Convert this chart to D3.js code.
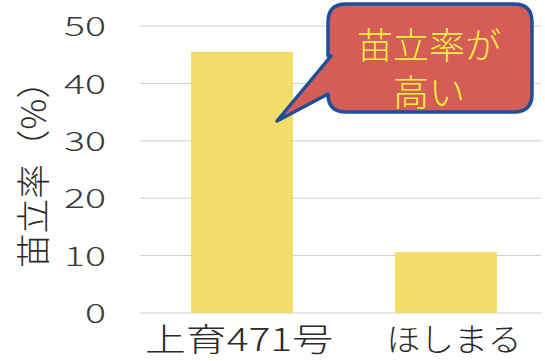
<!DOCTYPE html>
<html>
<head>
<meta charset="utf-8">
<script src="https://cdn.jsdelivr.net/npm/d3@7/dist/d3.min.js"></script>
<style>
  html, body { margin: 0; padding: 0; background: #ffffff; }
  svg { display: block; }
  text { font-family: "Noto Sans CJK JP", "Noto Sans", sans-serif; font-weight: 300; }
</style>
</head>
<body>
<svg id="chart" width="545" height="361"></svg>
<script>
// Seedling establishment rate by variety
const categories = ["上育471号", "ほしまる"];
const rates = [45.5, 10.6];
const yTicks = [0, 10, 20, 30, 40, 50];
const yTitle = "苗立率（%）";
const calloutLines = ["苗立率が", "高い"];

const svg = d3.select("#chart");

// bar centres and width
const xCenter = d3.scalePoint().domain(categories).range([242, 446]);
const barW = 102;
const labelShift = [-3, 8];
const labelLength = [188, 135];

const y = d3.scaleLinear().domain([0, 50]).range([313, 26]);

// gridlines
svg.append("g")
  .selectAll("line")
  .data(yTicks)
  .join("line")
  .attr("x1", 140).attr("x2", 541)
  .attr("y1", d => y(d)).attr("y2", d => y(d))
  .attr("stroke", "#cfcfcf")
  .attr("stroke-width", 1);

// y axis tick labels (wide, light digits)
const yAxis = d3.axisLeft(y).tickValues(yTicks).tickSize(0).tickPadding(0);
const gy = svg.append("g").attr("transform", "translate(106,0)").call(yAxis);
gy.select(".domain").remove();
gy.selectAll("text")
  .attr("font-size", 27)
  .attr("font-family", "'DejaVu Sans', sans-serif")
  .attr("font-weight", 200)
  .attr("fill", "#3a3a3a")
  .attr("dy", "0.36em")
  .attr("textLength", d => 21 * String(d).length)
  .attr("lengthAdjust", "spacingAndGlyphs");

// y axis title
svg.append("text")
  .attr("transform", "translate(31,166) rotate(-90)")
  .attr("text-anchor", "middle")
  .attr("dominant-baseline", "central")
  .attr("font-size", 34)
  .attr("fill", "#2a2a2a")
  .attr("textLength", 204)
  .attr("lengthAdjust", "spacingAndGlyphs")
  .text(yTitle);

// bars
svg.append("g")
  .selectAll("rect")
  .data(rates)
  .join("rect")
  .attr("x", (d, i) => xCenter(categories[i]) - barW / 2)
  .attr("width", barW)
  .attr("y", d => y(d))
  .attr("height", d => y(0) - y(d))
  .attr("fill", "#f2dc6a");

// x labels
svg.append("g")
  .selectAll("text")
  .data(categories)
  .join("text")
  .attr("x", (d, i) => xCenter(d) + labelShift[i])
  .attr("y", 337)
  .attr("text-anchor", "middle")
  .attr("dominant-baseline", "central")
  .attr("font-size", 32)
  .attr("fill", "#2a2a2a")
  .attr("textLength", (d, i) => labelLength[i])
  .attr("lengthAdjust", "spacingAndGlyphs")
  .text(d => d);

// callout bubble
const bx = 328, by = 4, bw = 204, bh = 108, r = 18;
const tip = [277, 121];
const path = d3.path();
path.moveTo(bx + r, by);
path.lineTo(bx + bw - r, by);
path.quadraticCurveTo(bx + bw, by, bx + bw, by + r);
path.lineTo(bx + bw, by + bh - r);
path.quadraticCurveTo(bx + bw, by + bh, bx + bw - r, by + bh);
path.lineTo(bx + r, by + bh);
path.quadraticCurveTo(bx, by + bh, bx, by + bh - r);
path.lineTo(bx, 94);
path.lineTo(tip[0], tip[1]);
path.lineTo(bx + 3, 56);
path.lineTo(bx, 56);
path.lineTo(bx, by + r);
path.quadraticCurveTo(bx, by, bx + r, by);
path.closePath();

svg.append("path")
  .attr("d", path.toString())
  .attr("fill", "#d65c58")
  .attr("stroke", "#1d4f9a")
  .attr("stroke-width", 3.5)
  .attr("stroke-linejoin", "round");

svg.append("g")
  .selectAll("text")
  .data(calloutLines)
  .join("text")
  .attr("x", 429)
  .attr("y", (d, i) => 43 + i * 47)
  .attr("text-anchor", "middle")
  .attr("dominant-baseline", "central")
  .attr("font-size", 36)
  .attr("fill", "#f6f03c")
  .text(d => d);
</script>
</body>
</html>
